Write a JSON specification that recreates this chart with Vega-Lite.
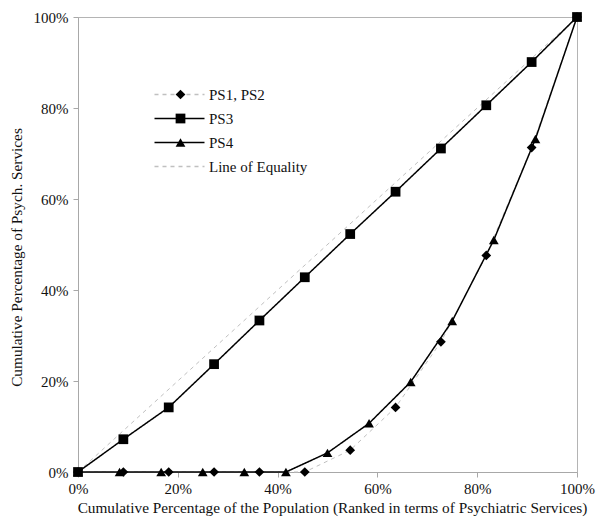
{
  "$schema": "https://vega.github.io/schema/vega-lite/v6.json",
  "width": 499,
  "height": 455,
  "autosize": "none",
  "padding": {"left": 78, "top": 17, "right": 23, "bottom": 56},
  "background": "white",
  "config": {
    "view": {"stroke": "#b4b4b4", "strokeWidth": 1},
    "font": "Liberation Serif",
    "axis": {
      "grid": false,
      "domainColor": "#a8a8a8",
      "tickColor": "#a8a8a8",
      "tickSize": 5,
      "labelFont": "Liberation Serif",
      "labelFontSize": 15,
      "labelColor": "#111",
      "titleFont": "Liberation Serif",
      "titleFontSize": 15.3,
      "titleFontWeight": "normal",
      "titleColor": "#111",
      "labelFlush": false
    },
    "legend": {
      "labelFont": "Liberation Serif",
      "labelFontSize": 15,
      "labelColor": "#111",
      "padding": 0
    }
  },
  "data": {
    "values": [
      {"series": "PS1, PS2", "x": 0, "y": 0},
      {"series": "PS1, PS2", "x": 0.0909, "y": 0},
      {"series": "PS1, PS2", "x": 0.1818, "y": 0},
      {"series": "PS1, PS2", "x": 0.2727, "y": 0},
      {"series": "PS1, PS2", "x": 0.3636, "y": 0},
      {"series": "PS1, PS2", "x": 0.4545, "y": 0},
      {"series": "PS1, PS2", "x": 0.5455, "y": 0.048},
      {"series": "PS1, PS2", "x": 0.6364, "y": 0.142},
      {"series": "PS1, PS2", "x": 0.7273, "y": 0.286},
      {"series": "PS1, PS2", "x": 0.8182, "y": 0.476},
      {"series": "PS1, PS2", "x": 0.9091, "y": 0.713},
      {"series": "PS1, PS2", "x": 1, "y": 1},
      {"series": "PS3", "x": 0, "y": 0},
      {"series": "PS3", "x": 0.0909, "y": 0.072},
      {"series": "PS3", "x": 0.1818, "y": 0.142},
      {"series": "PS3", "x": 0.2727, "y": 0.237},
      {"series": "PS3", "x": 0.3636, "y": 0.333},
      {"series": "PS3", "x": 0.4545, "y": 0.428},
      {"series": "PS3", "x": 0.5455, "y": 0.523},
      {"series": "PS3", "x": 0.6364, "y": 0.616},
      {"series": "PS3", "x": 0.7273, "y": 0.711},
      {"series": "PS3", "x": 0.8182, "y": 0.806},
      {"series": "PS3", "x": 0.9091, "y": 0.901},
      {"series": "PS3", "x": 1, "y": 1},
      {"series": "PS4", "x": 0, "y": 0},
      {"series": "PS4", "x": 0.0833, "y": 0},
      {"series": "PS4", "x": 0.1667, "y": 0},
      {"series": "PS4", "x": 0.25, "y": 0},
      {"series": "PS4", "x": 0.3333, "y": 0},
      {"series": "PS4", "x": 0.4167, "y": 0},
      {"series": "PS4", "x": 0.5, "y": 0.042},
      {"series": "PS4", "x": 0.5833, "y": 0.107},
      {"series": "PS4", "x": 0.6667, "y": 0.198},
      {"series": "PS4", "x": 0.75, "y": 0.332},
      {"series": "PS4", "x": 0.8333, "y": 0.51},
      {"series": "PS4", "x": 0.9167, "y": 0.732},
      {"series": "PS4", "x": 1, "y": 1},
      {"series": "Line of Equality", "x": 0, "y": 0},
      {"series": "Line of Equality", "x": 1, "y": 1}
    ]
  },
  "encoding": {
    "x": {
      "field": "x", "type": "quantitative",
      "scale": {"domain": [0, 1], "nice": false},
      "axis": {"values": [0, 0.2, 0.4, 0.6, 0.8, 1], "format": ".0%", "labelPadding": 4,
               "title": "Cumulative Percentage of the Population (Ranked in terms of Psychiatric Services)",
               "titlePadding": 4, "titleX": 254}
    },
    "y": {
      "field": "y", "type": "quantitative",
      "scale": {"domain": [0, 1], "nice": false},
      "axis": {"values": [0, 0.2, 0.4, 0.6, 0.8, 1], "format": ".0%", "labelPadding": 5,
               "title": "Cumulative Percentage of Psych. Services", "titlePadding": 9, "titleY": 240}
    }
  },
  "layer": [
    {
      "transform": [{"filter": "datum.series === 'PS1, PS2' || datum.series === 'Line of Equality'"}],
      "mark": {"type": "line", "strokeWidth": 1},
      "encoding": {
        "detail": {"field": "series"},
        "color": {
          "field": "series", "type": "nominal",
          "scale": {"domain": ["PS1, PS2", "PS3", "PS4", "Line of Equality"], "range": ["#c0c0c0", "#000000", "#000000", "#c0c0c0"]},
          "legend": {"orient": "none", "legendX": 94, "legendY": 70, "title": null, "symbolType": "M-5,0H5", "symbolSize": 100, "symbolStrokeWidth": 1.3, "labelOffset": 22, "rowPadding": 8}
        },
        "strokeDash": {
          "field": "series", "type": "nominal",
          "scale": {"domain": ["PS1, PS2", "PS3", "PS4", "Line of Equality"], "range": [[4, 4], [1, 0], [1, 0], [4, 4]]}
        }
      }
    },
    {
      "transform": [{"filter": "datum.series === 'PS3' || datum.series === 'PS4'"}],
      "mark": {"type": "line", "strokeWidth": 1.5},
      "encoding": {
        "detail": {"field": "series"},
        "color": {"field": "series", "type": "nominal"},
        "strokeDash": {"field": "series", "type": "nominal"}
      }
    },
    {
      "transform": [{"filter": "datum.series !== 'Line of Equality'"}],
      "mark": {"type": "point", "filled": true, "color": "#000000", "opacity": 1, "size": 95},
      "encoding": {
        "shape": {
          "field": "series", "type": "nominal",
          "scale": {"domain": ["PS1, PS2", "PS3", "PS4"], "range": ["diamond", "square", "triangle-up"]},
          "legend": {"orient": "none", "legendX": 95, "legendY": 70, "title": null, "labelExpr": "''", "symbolFillColor": "#000000", "symbolStrokeColor": "#000000", "symbolStrokeWidth": 0, "symbolSize": 95, "rowPadding": 8}
        }
      }
    }
  ]
}
